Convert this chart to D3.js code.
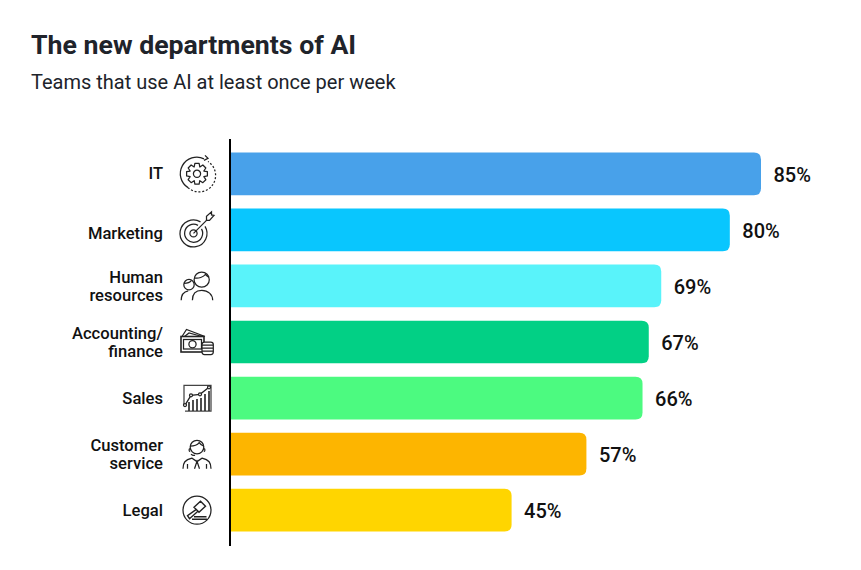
<!DOCTYPE html>
<html><head><meta charset="utf-8">
<script src="https://cdn.jsdelivr.net/npm/d3@7"></script>
<style>html,body{margin:0;background:#fff}svg{display:block}text{font-family:Roboto,sans-serif}</style>
</head><body><svg id="c" width="861" height="570"></svg>
<script>
const categories=[["IT"],["Marketing"],["Human","resources"],["Accounting/","finance"],["Sales"],["Customer","service"],["Legal"]];
const values=[85,80,69,67,66,57,45];
const colors=["#48a1ea","#09c6fe","#59f3fa","#02d085","#4cfa80","#fdb500","#ffd500"];
const iconNames=["gear","target","people","money","chart","agent","gavel"];
const title="The new departments of AI";
const subtitle="Teams that use AI at least once per week";

const svg=d3.select("#c");
const idx=values.map((_,i)=>i);
const x=d3.scaleLinear().domain([0,85]).range([231,761]);
const y=d3.scaleBand().domain(idx).range([152.5,531.5]).paddingInner(0.239).paddingOuter(0);
const mid=i=>y(i)+y.bandwidth()/2;

svg.append("text").attr("x",31).attr("y",54).attr("font-size",26.7).attr("font-weight",700).attr("fill","#20232a").text(title);
svg.append("text").attr("x",31).attr("y",89).attr("font-size",20).attr("fill","#20232a").text(subtitle);

function barPath(d,i){
  const x0=x(0),x1=x(d),y0=y(i),h=y.bandwidth(),r=7;
  return `M${x0},${y0}H${x1-r}Q${x1},${y0} ${x1},${y0+r}V${y0+h-r}Q${x1},${y0+h} ${x1-r},${y0+h}H${x0}Z`;
}
svg.selectAll("path.bar").data(values).join("path").attr("class","bar").attr("d",barPath).attr("fill",(d,i)=>colors[i]);

svg.append("line").attr("x1",230).attr("x2",230).attr("y1",139).attr("y2",546).attr("stroke","#000").attr("stroke-width",2);

svg.selectAll("text.val").data(values).join("text").attr("class","val")
  .attr("x",d=>x(d)+12.5).attr("y",(d,i)=>mid(i)+8).attr("font-size",20).attr("font-weight",500).attr("fill","#111")
  .text(d=>d+"%");

const labels=svg.selectAll("text.cat").data(categories).join("text").attr("class","cat")
  .attr("text-anchor","end").attr("font-size",16.6).attr("font-weight",500).attr("fill","#111");
labels.each(function(lines,i){
  const off=lines.length===1?(i===1?9:5.6):-2.9;
  d3.select(this).selectAll("tspan").data(lines).join("tspan")
    .attr("x",163).attr("y",(l,j)=>mid(i)+off+j*18).text(l=>l);
});

const icons={
 gear(g){
  g.append("path").attr("d","M7,-15A16.5,16.5 0 0 0 -9,13.8");
  g.append("path").attr("d","M-9,13.8A16.5,16.5 0 1 0 11,-12.3").attr("stroke-dasharray","2 1.8");
  g.append("path").attr("d","M8,-18.5L11,-15.5L7,-13.5");
  const gp=d3.path();
  for(let k=0;k<8;k++){const a=k*Math.PI/4;
    [[7.4,-.39],[10.6,-.2],[10.6,.2],[7.4,.39]].forEach((p,j)=>{const X=p[0]*Math.cos(a+p[1]),Y=p[0]*Math.sin(a+p[1]);(k===0&&j===0)?gp.moveTo(X,Y):gp.lineTo(X,Y);});}
  gp.closePath();g.append("path").attr("d",gp.toString()).attr("stroke-linejoin","round");
  g.append("circle").attr("r",3.6);
 },
 target(g){
  const c=g.append("g").attr("transform","translate(-3.5,3.5)");
  c.append("path").attr("d","M7,-11.5A13.5,13.5 0 1 0 11.5,-7");
  c.append("path").attr("d","M4.5,-8A9,9 0 1 0 8,-4.5");
  c.append("circle").attr("r",3.6);
  c.append("path").attr("d","M0,0L13,-13");
  c.append("path").attr("d","M13,-13V-17L18,-21.5L18,-18.5L20.5,-18L16,-13Z");
 },
 people(g){
  g.append("circle").attr("cx",4.7).attr("cy",-6.3).attr("r",7.6);
  g.append("path").attr("d","M-2.5,-8c4,1 9,-1 11,-3.5c1,1.5 2.5,2.5 3.6,3");
  g.append("circle").attr("cx",-8).attr("cy",-1.3).attr("r",5.2);
  g.append("path").attr("d","M-13,-2.5c3,0 6,-1 7.5,-3");
  g.append("path").attr("d","M-15.8,14.4c0,-5 2,-8.5 7,-9.5M-4.6,14.4c0,-6 3,-10 9.3,-10s11,4 11,10");
 },
 money(g){
  g.append("path").attr("d","M-15,-5.5L-10.5,-12.5L8,-5.5M-12.5,-5.5L-8,-9L5,-5.5");
  g.append("rect").attr("x",-16).attr("y",-5.5).attr("width",23).attr("height",15.5).attr("stroke-width",1.6);
  g.append("rect").attr("x",-13.5).attr("y",-2.5).attr("width",18).attr("height",9.5);
  g.append("circle").attr("cx",-4.5).attr("cy",2.2).attr("r",3.6);
  g.append("rect").attr("x",5).attr("y",0).attr("width",11.3).attr("height",12.5).attr("rx",2.5).attr("fill","#fff");
  g.append("path").attr("d","M5,3h11M5,6h11M5,9.2h11");
 },
 chart(g){
  g.append("path").attr("d","M-13,7V-12.7H14V13H-12").attr("stroke","#444");
  g.append("path").attr("d","M-12,7L-6,-2.7L3,-3.7L12,-10.7").attr("stroke-width",1.3);
  g.selectAll("circle").data([[-12,7],[-6,-2.7],[3,-3.7],[12,-10.7]]).join("circle").attr("cx",d=>d[0]).attr("cy",d=>d[1]).attr("r",1.5).attr("fill","#fff");
  g.append("path").attr("d","M-8,13V4M-4,13V2M0,13V1M4,13V0M8,13V-4M12,13V-7").attr("stroke-width",1.6);
 },
 agent(g){
  g.append("circle").attr("cy",-7).attr("r",6.8);
  g.append("path").attr("d","M-6.8,-8c3,0 7,-1 9,-3.5c1,1.5 3,3 4.6,3.5");
  g.append("path").attr("d","M-6.8,-5.5c-1.5,0 -1.5,3 0,3M6.8,-5.5c1.5,0 1.5,3 0,3M-6,0c1,1 3,1.5 4,1");
  g.append("path").attr("d","M-14,14.6c0,-6 2,-9 9,-10.6l5,3.5l5,-3.5c7,1.6 9,4.6 9,10.6M-2.5,14.6l2.5,-7.5l2.5,7.5M-9.5,14.6V10M9.5,14.6V10");
 },
 gavel(g){
  g.append("circle").attr("r",14);
  g.append("path").attr("d","M-3,-3L3.5,-9L8.5,-4L2,2ZM-1,-0.5L-9.5,5.5L-7.5,8.5L1.5,0.5").attr("stroke-width",1.4);
  g.append("path").attr("d","M-3,6.5H9.5M-5,9H10").attr("stroke-width",1.5);
 }
};
const iconG=svg.selectAll("g.icon").data(iconNames).join("g").attr("class","icon")
  .attr("transform",(d,i)=>`translate(197,${mid(i)})`)
  .attr("fill","none").attr("stroke","#222").attr("stroke-width",1.25);
iconG.each(function(n){icons[n](d3.select(this));});
</script></body></html>
